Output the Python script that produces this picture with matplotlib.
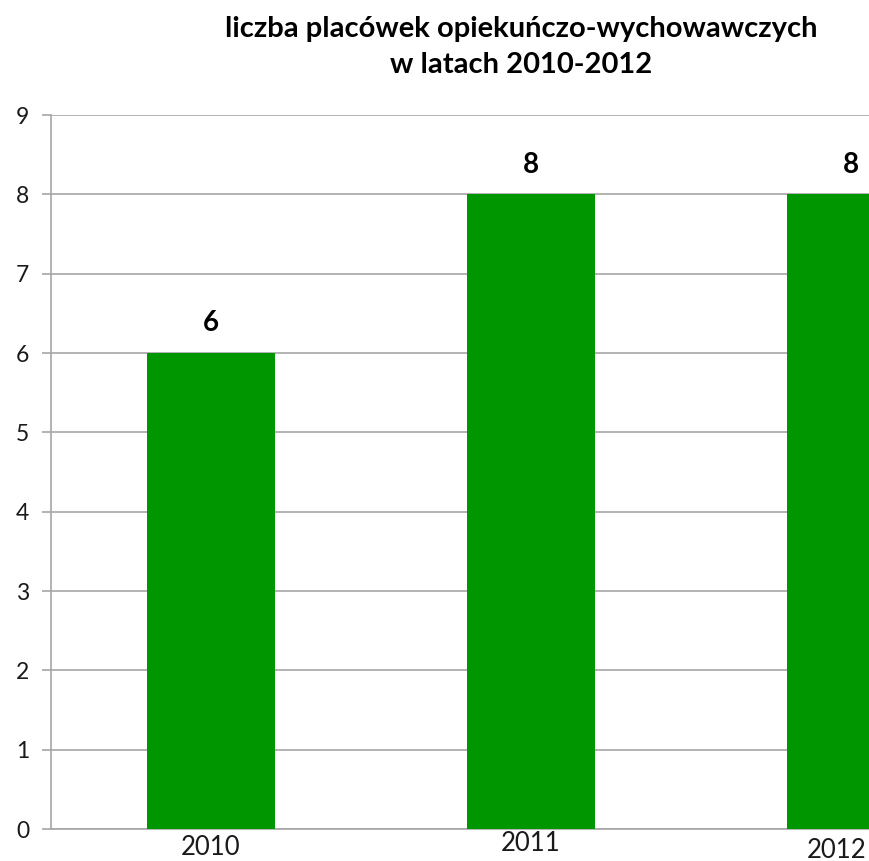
import matplotlib.pyplot as plt
import matplotlib.transforms as mtransforms

years = ['2010', '2011', '2012']
counts = [6, 8, 8]

title = 'liczba placówek opiekuńczo-wychowawczych\nw latach 2010-2012'
bar_color = '#009600'
grid_color = '#a6a6a6'

plt.rcParams['font.family'] = ['Lato', 'DejaVu Sans']

fig = plt.figure(figsize=(8.69, 8.61), dpi=100)
# axes extends past the right edge, chart is cropped like the original
ax = fig.add_axes([51 / 869, 32 / 861, 960 / 869, 714 / 861])

x = list(range(len(years)))
ax.bar(x, counts, width=0.4, color=bar_color, zorder=3)
for xi, v in zip(x, counts):
    ax.annotate(str(v), (xi, v), xytext=(0, 12), textcoords='offset points',
                ha='center', va='bottom', fontsize=20, fontweight='bold')

ax.set_xlim(-0.5, 2.5)
ax.set_ylim(0, 9)
ax.set_yticks(range(0, 10))
ax.set_xticks(x)
ax.set_xticklabels(years)
ax.yaxis.grid(True, color=grid_color, linewidth=1.2, zorder=0)

for s in ['top', 'right']:
    ax.spines[s].set_visible(False)
for s in ['left', 'bottom']:
    ax.spines[s].set_color(grid_color)
    ax.spines[s].set_linewidth(1.2)

ax.tick_params(axis='y', length=6.5, color=grid_color, width=1.2, pad=9,
               labelsize=16.5, labelcolor='#1a1a1a')
ax.tick_params(axis='x', length=0, pad=4, labelsize=18.5, labelcolor='#1a1a1a')

# small shifts of year labels as in the original (last one kept inside the frame)
shifts = [(0, 0), (0, 4), (-14, -3)]
for lab, (dx, dy) in zip(ax.get_xticklabels(), shifts):
    lab.set_transform(lab.get_transform() +
                      mtransforms.ScaledTranslation(dx / 100, dy / 100, fig.dpi_scale_trans))

fig.text(521 / 869, 1 - 47 / 861, title, ha='center', va='center',
         fontsize=21, fontweight='bold', linespacing=1.5)

fig.savefig('out.png', dpi=100)
